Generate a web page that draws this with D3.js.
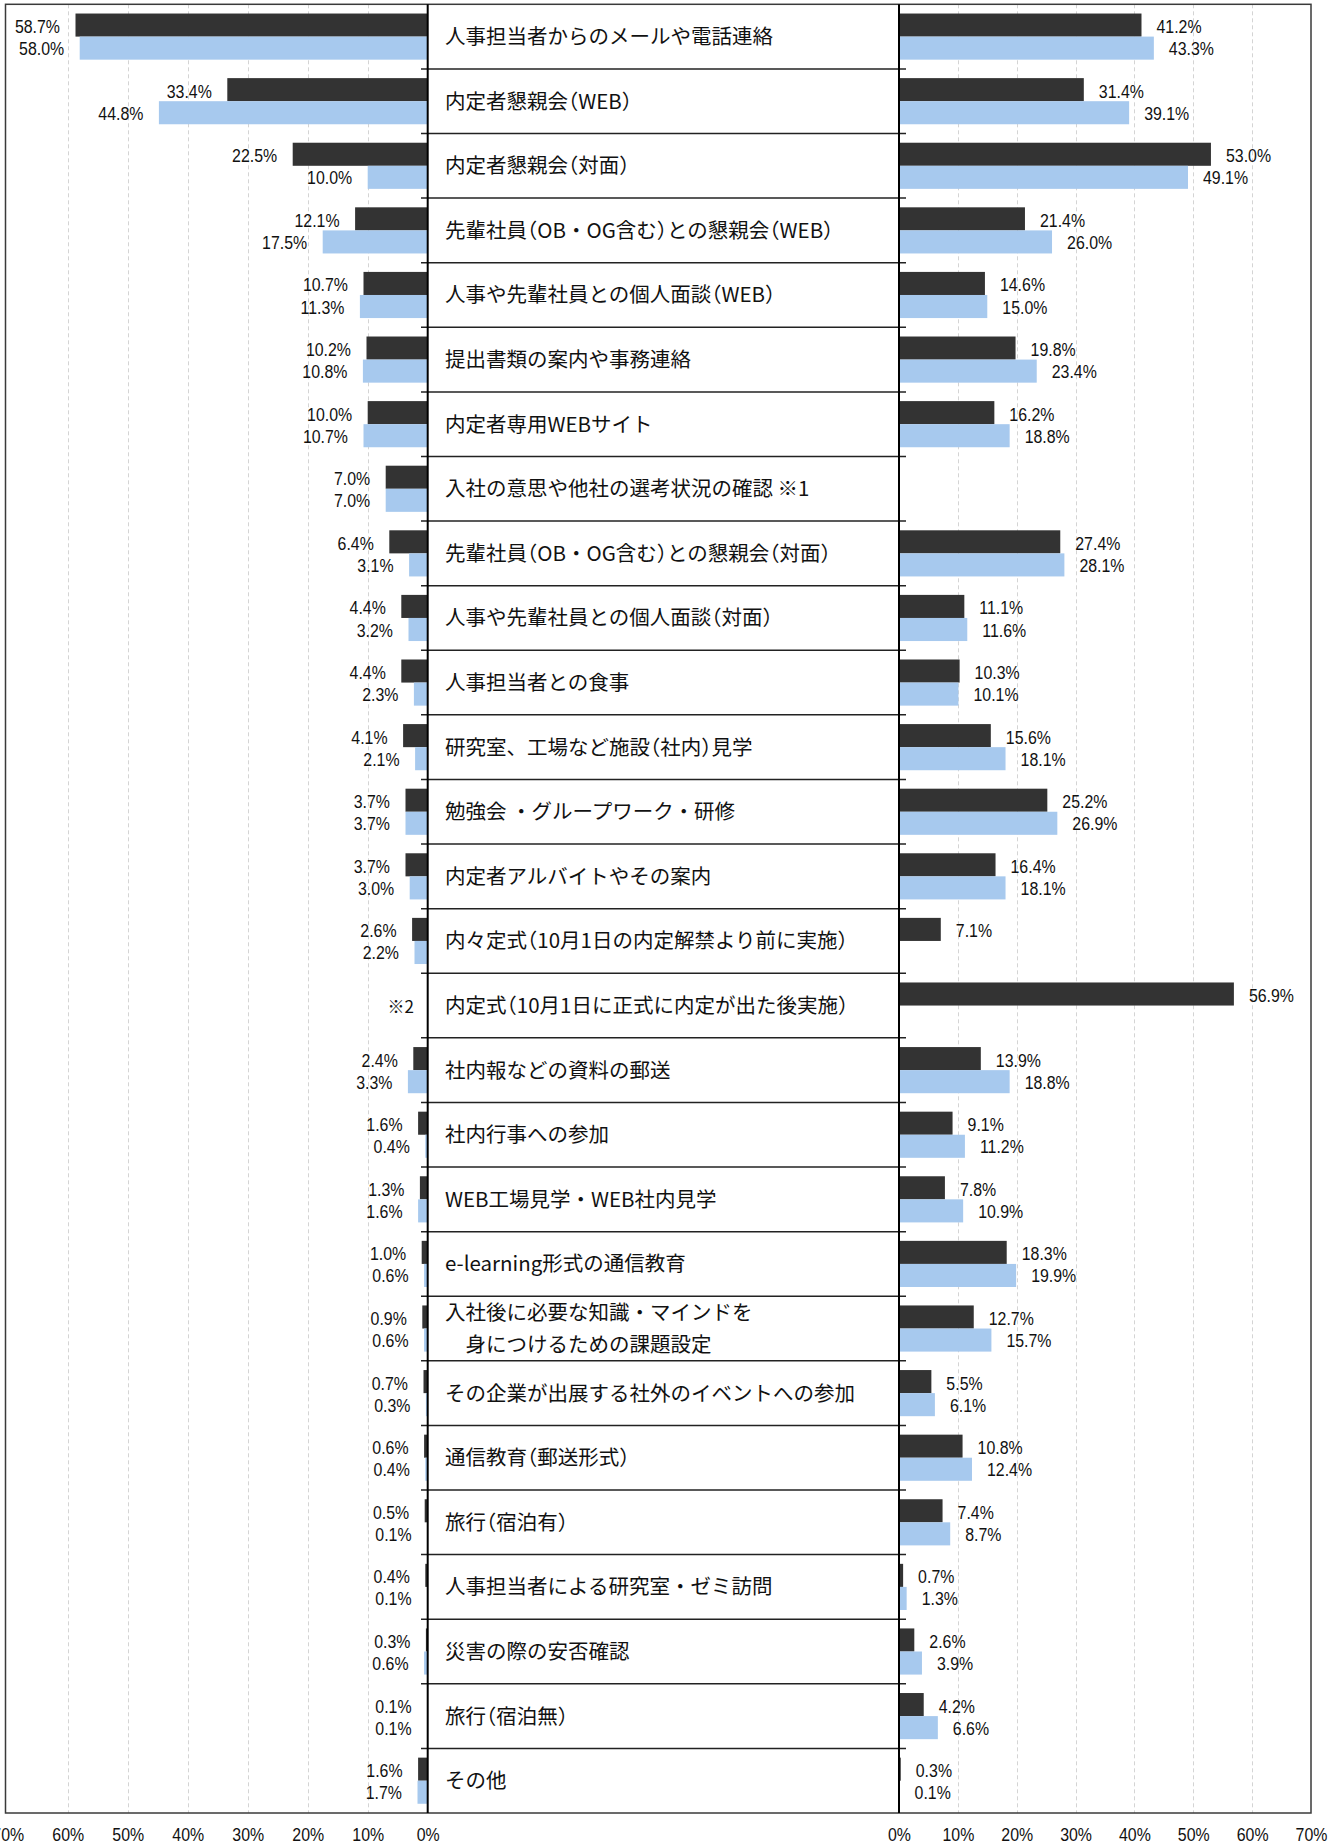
<!DOCTYPE html>
<html lang="ja">
<head>
<meta charset="utf-8">
<script src="https://cdn.jsdelivr.net/npm/d3@7"></script>
<style>
  html, body { margin: 0; padding: 0; background: #fff; }
  svg { display: block; }
</style>
</head>
<body>
<svg id="chart" width="1343" height="1845"></svg>
<script>
// ---- data ----
const categories = [
  "人事担当者からのメールや電話連絡",
  "内定者懇親会（WEB）",
  "内定者懇親会（対面）",
  "先輩社員（OB・OG含む）との懇親会（WEB）",
  "人事や先輩社員との個人面談（WEB）",
  "提出書類の案内や事務連絡",
  "内定者専用WEBサイト",
  "入社の意思や他社の選考状況の確認 ※1",
  "先輩社員（OB・OG含む）との懇親会（対面）",
  "人事や先輩社員との個人面談（対面）",
  "人事担当者との食事",
  "研究室、工場など施設（社内）見学",
  "勉強会 ・グループワーク・研修",
  "内定者アルバイトやその案内",
  "内々定式（10月1日の内定解禁より前に実施）",
  "内定式（10月1日に正式に内定が出た後実施）",
  "社内報などの資料の郵送",
  "社内行事への参加",
  "WEB工場見学・WEB社内見学",
  "e-learning形式の通信教育",
  "入社後に必要な知識・マインドを\n　身につけるための課題設定",
  "その企業が出展する社外のイベントへの参加",
  "通信教育（郵送形式）",
  "旅行（宿泊有）",
  "人事担当者による研究室・ゼミ訪問",
  "災害の際の安否確認",
  "旅行（宿泊無）",
  "その他"
];
const leftDark  = [58.7,33.4,22.5,12.1,10.7,10.2,10.0,7.0,6.4,4.4,4.4,4.1,3.7,3.7,2.6,null,2.4,1.6,1.3,1.0,0.9,0.7,0.6,0.5,0.4,0.3,0.1,1.6];
const leftLight = [58.0,44.8,10.0,17.5,11.3,10.8,10.7,7.0,3.1,3.2,2.3,2.1,3.7,3.0,2.2,null,3.3,0.4,1.6,0.6,0.6,0.3,0.4,0.1,0.1,0.6,0.1,1.7];
const rightDark = [41.2,31.4,53.0,21.4,14.6,19.8,16.2,null,27.4,11.1,10.3,15.6,25.2,16.4,7.1,56.9,13.9,9.1,7.8,18.3,12.7,5.5,10.8,7.4,0.7,2.6,4.2,0.3];
const rightLight= [43.3,39.1,49.1,26.0,15.0,23.4,18.8,null,28.1,11.6,10.1,18.1,26.9,18.1,null,null,18.8,11.2,10.9,19.9,15.7,6.1,12.4,8.7,1.3,3.9,6.6,0.1];
const leftNotes = [{ index: 15, text: "※2" }];
const tickValues = [0,10,20,30,40,50,60,70];

// ---- layout ----
const TOP = 4.3, BOTTOM = 1813;
const COLOR_DARK = "#333333", COLOR_LIGHT = "#a7c9ee";
const NUM_FONT = "'Liberation Sans', Arial, sans-serif";
const JP_FONT = "'Noto Sans CJK JP', 'Noto Sans', sans-serif";

const svg = d3.select("#chart");
const xL = d3.scaleLinear().domain([0,70]).range([427.7, 7.7]);
const xR = d3.scaleLinear().domain([0,70]).range([899, 1311]);
const y = d3.scaleBand().domain(d3.range(categories.length)).range([TOP, BOTTOM]).padding(0);
const sub = d3.scaleBand().domain(["dark","light"]).range([0, y.bandwidth()]).paddingOuter(0.4).paddingInner(0);

// gridlines
const gridVals = tickValues.filter(v => v > 0 && v < 70);
const grid = svg.append("g").attr("stroke", "#d4d4d4").attr("stroke-width", 1).attr("stroke-dasharray", "4,3");
[xL, xR].forEach(sc => {
  grid.selectAll(null).data(gridVals).enter().append("line")
    .attr("x1", d => Math.round(sc(d)) + 0.5).attr("x2", d => Math.round(sc(d)) + 0.5)
    .attr("y1", TOP).attr("y2", BOTTOM);
});

// bars
const series = [
  { key: "dark", color: COLOR_DARK, left: leftDark, right: rightDark },
  { key: "light", color: COLOR_LIGHT, left: leftLight, right: rightLight }
];
const bars = svg.append("g");
series.forEach(s => {
  const ld = s.left.map((v, i) => ({ v, i })).filter(d => d.v != null);
  const rd = s.right.map((v, i) => ({ v, i })).filter(d => d.v != null);
  bars.selectAll(null).data(ld).enter().append("rect")
    .attr("x", d => xL(d.v)).attr("width", d => xL(0) - xL(d.v))
    .attr("y", d => y(d.i) + sub(s.key)).attr("height", sub.bandwidth())
    .attr("fill", s.color);
  bars.selectAll(null).data(rd).enter().append("rect")
    .attr("x", xR(0)).attr("width", d => xR(d.v) - xR(0))
    .attr("y", d => y(d.i) + sub(s.key)).attr("height", sub.bandwidth())
    .attr("fill", s.color);
});

// value labels
const fmt = d => d3.format(".1f")(d) + "%";
const labels = svg.append("g").attr("font-family", NUM_FONT).attr("font-size", 18.5).attr("fill", "#111");
series.forEach(s => {
  const off = s.key === "dark" ? 8 : 7;
  s.left.forEach((v, i) => {
    if (v == null) return;
    const cy = y(i) + sub(s.key) + sub.bandwidth() / 2 + off;
    labels.append("text")
      .attr("transform", `translate(${xL(v) - 15.5},${cy}) scale(0.86,1)`)
      .attr("text-anchor", "end").text(fmt(v));
  });
  s.right.forEach((v, i) => {
    if (v == null) return;
    const cy = y(i) + sub(s.key) + sub.bandwidth() / 2 + off;
    labels.append("text")
      .attr("transform", `translate(${xR(v) + 15},${cy}) scale(0.86,1)`)
      .attr("text-anchor", "start").text(fmt(v));
  });
});

// notes
leftNotes.forEach(n => {
  svg.append("text")
    .attr("x", 414).attr("y", y(n.index) + y.bandwidth() / 2 + 7)
    .attr("text-anchor", "end").attr("font-family", JP_FONT).attr("font-size", 17)
    .attr("fill", "#111").text(n.text);
});

// row separators
const seps = svg.append("g").attr("stroke", "#222").attr("stroke-width", 1.5);
seps.selectAll(null).data(d3.range(1, categories.length)).enter().append("line")
  .attr("x1", 421).attr("x2", 906)
  .attr("y1", d => y(d)).attr("y2", d => y(d));

// category labels
const catG = svg.append("g").attr("font-family", JP_FONT).attr("font-size", 20.5).attr("fill", "#111");
function addRuns(el, str) {
  str.split(/([（）])/).filter(p => p.length).forEach(p => {
    el.append("tspan").text(p)
      .style("font-feature-settings", /[（）]/.test(p) ? '"halt" 1' : 'normal');
  });
}
categories.forEach((c, i) => {
  const lines = c.split("\n");
  const cy = y(i) + y.bandwidth() / 2;
  if (lines.length === 1) {
    const t = catG.append("text").attr("x", 445).attr("y", cy + 7.5);
    addRuns(t, c);
  } else {
    lines.forEach((ln, k) => {
      const t = catG.append("text").attr("x", 445).attr("y", cy + 7.5 + (k === 0 ? -16 : 16))
        .attr("xml:space", "preserve");
      addRuns(t, ln);
    });
  }
});

// frame and zero axes
svg.append("rect").attr("x", 5.5).attr("y", TOP).attr("width", 1305.5).attr("height", BOTTOM - TOP)
  .attr("fill", "none").attr("stroke", "#3a3a3a").attr("stroke-width", 1.5);
svg.append("line").attr("x1", xL(0)).attr("x2", xL(0)).attr("y1", TOP).attr("y2", BOTTOM)
  .attr("stroke", "#000").attr("stroke-width", 2);
svg.append("line").attr("x1", xR(0)).attr("x2", xR(0)).attr("y1", TOP).attr("y2", BOTTOM)
  .attr("stroke", "#000").attr("stroke-width", 2);

// axes (tick labels)
[xL, xR].forEach(sc => {
  const g = svg.append("g").attr("transform", `translate(0,${BOTTOM})`)
    .call(d3.axisBottom(sc).tickValues(tickValues).tickFormat(d => d + "%").tickSize(0).tickPadding(15));
  g.select(".domain").remove();
  g.selectAll("text").attr("font-family", NUM_FONT).attr("font-size", 18.5).attr("fill", "#111")
    .attr("transform", "scale(0.86,1)");
});
</script>
</body>
</html>
